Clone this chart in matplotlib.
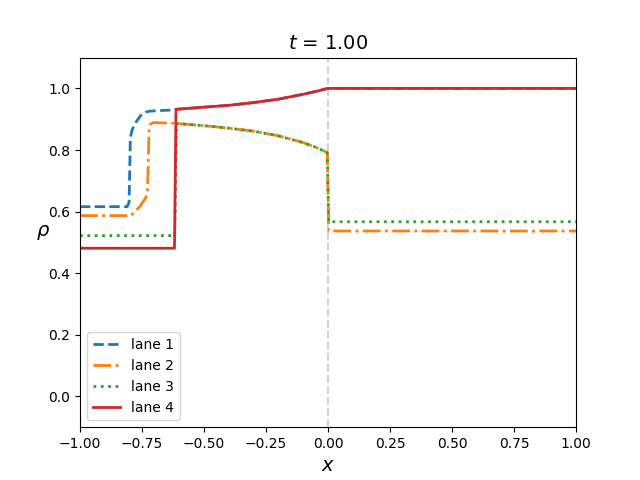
import matplotlib
matplotlib.use('Agg')
import matplotlib.pyplot as plt

# densities of the four lanes at t = 1.00
x_lane1 = [-1.0, -0.81, -0.802, -0.797, -0.79, -0.775, -0.755, -0.735, -0.72, -0.68, -0.625,
           -0.615, -0.5, -0.4, -0.3, -0.2, -0.1, -0.05, 0.0, 0.5, 1.0]
rho_lane1 = [0.616, 0.616, 0.63, 0.84, 0.865, 0.89, 0.912, 0.923, 0.926, 0.928, 0.930,
             0.932, 0.939, 0.945, 0.954, 0.965, 0.981, 0.990, 1.0, 1.0, 1.0]

x_lane2 = [-1.0, -0.795, -0.76, -0.735, -0.728, -0.725, -0.722, -0.716, -0.705, -0.625,
           -0.5, -0.4, -0.3, -0.2, -0.1, -0.05, -0.003, 0.003, 0.5, 1.0]
rho_lane2 = [0.587, 0.587, 0.615, 0.645, 0.66, 0.75, 0.86, 0.883, 0.889, 0.887,
             0.879, 0.871, 0.861, 0.846, 0.824, 0.809, 0.792, 0.537, 0.537, 0.537]

x_lane3 = [-1.0, -0.618, -0.611, -0.5, -0.4, -0.3, -0.2, -0.1, -0.05, -0.003, 0.003, 0.5, 1.0]
rho_lane3 = [0.522, 0.522, 0.886, 0.879, 0.871, 0.861, 0.846, 0.824, 0.809, 0.792, 0.567, 0.567, 0.567]

x_lane4 = [-1.0, -0.619, -0.613, -0.5, -0.4, -0.3, -0.2, -0.1, -0.05, 0.0, 0.5, 1.0]
rho_lane4 = [0.481, 0.481, 0.932, 0.939, 0.945, 0.954, 0.965, 0.981, 0.990, 1.0, 1.0, 1.0]

fig, ax = plt.subplots(figsize=(6.4, 4.8), dpi=100)

ax.axvline(0.0, color='lightgray', linestyle='--', linewidth=1.5, zorder=0)

ax.plot(x_lane1, rho_lane1, '--', color='tab:blue', linewidth=2, label='lane 1')
ax.plot(x_lane2, rho_lane2, '-.', color='tab:orange', linewidth=2, label='lane 2')
ax.plot(x_lane3, rho_lane3, ':', color='tab:green', linewidth=2, label='lane 3')
ax.plot(x_lane4, rho_lane4, '-', color='tab:red', linewidth=2, label='lane 4')

ax.set_xlim(-1, 1)
ax.set_ylim(-0.1, 1.1)
ax.set_title('$t$ = 1.00', fontsize=14)
ax.set_xlabel('$x$', fontsize=14)
ax.set_ylabel(r'$\rho$', fontsize=14, rotation=0)
ax.legend(loc='lower left')

plt.savefig('out.png', dpi=100)
